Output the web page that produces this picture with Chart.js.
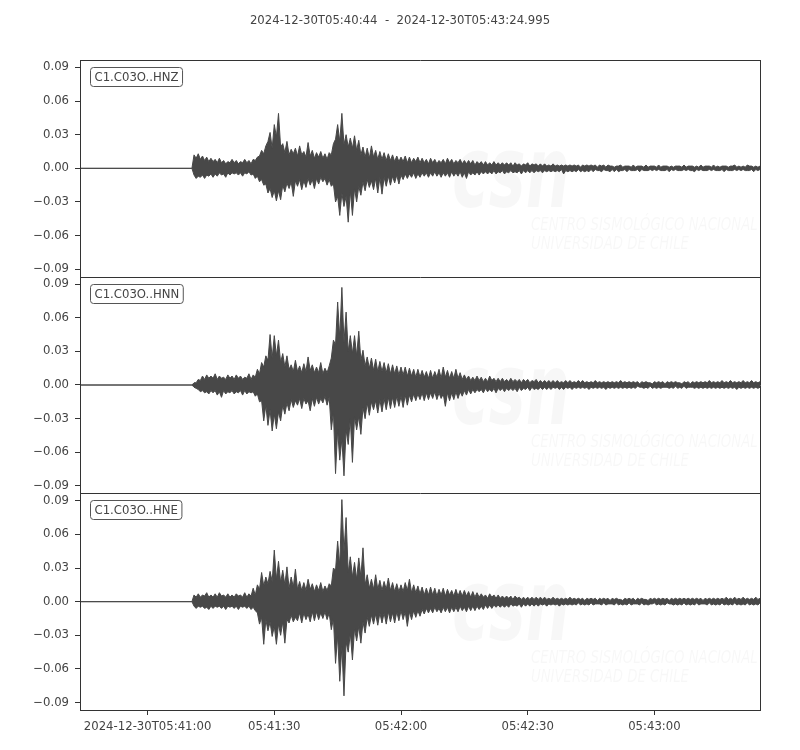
<!DOCTYPE html>
<html>
<head>
<meta charset="utf-8">
<title>C1.C03O</title>
<script src="https://cdn.jsdelivr.net/npm/chart.js@4.4.1/dist/chart.umd.min.js"></script>
<style>
  html, body { margin: 0; padding: 0; background: #fff; }
  #wrap { width: 800px; height: 750px; }
</style>
</head>
<body>
<div id="wrap"><canvas id="sismo" width="800" height="750"></canvas></div>
<script>
// ventana de tiempo (segundos desde 05:40:44)
const titleText = '2024-12-30T05:40:44  -  2024-12-30T05:43:24.995';
const duration = 160.995;
const channels = ['C1.C03O..HNZ', 'C1.C03O..HNN', 'C1.C03O..HNE'];
const xTickSeconds = [16, 46, 76, 106, 136];
const xTickLabels = ['2024-12-30T05:41:00', '05:41:30', '05:42:00', '05:42:30', '05:43:00'];
const yTicks = [-0.09, -0.06, -0.03, 0, 0.03, 0.06, 0.09];
const yLimit = 0.0966;

// maximo y minimo de la traza,
// una columna cada 0.5 s desde t = 26.5 s, en milesimas
const onset = 26.5;
const step = 0.5;
const unit = 0.001;

const hnzMax = [
  0, 12, 9, 13, 8, 11, 7, 10, 6, 9,
  6, 8, 5, 9, 5, 7, 4, 6, 5, 8,
  5, 7, 4, 6, 5, 8, 5, 7, 4, 8,
  7, 10, 11, 16, 13, 20, 24, 32, 18, 39,
  28, 49, 19, 22, 14, 24, 12, 17, 13, 18,
  11, 20, 12, 15, 10, 23, 11, 16, 9, 14,
  10, 15, 9, 13, 8, 14, 12, 22, 26, 39,
  24, 49, 21, 30, 19, 27, 18, 29, 16, 25,
  12, 19, 10, 18, 9, 20, 10, 16, 8, 15,
  8, 14, 7, 13, 7, 12, 6, 11, 6, 10,
  6, 11, 5, 10, 5, 9, 6, 10, 5, 9,
  5, 8, 4, 9, 5, 8, 4, 7, 5, 8,
  4, 9, 5, 8, 4, 7, 5, 8, 4, 7,
  4, 7, 4, 7, 3, 6, 4, 6, 3, 6,
  3, 5, 3, 6, 3, 5, 3, 5, 3, 5,
  3, 5, 2, 5, 3, 4, 2, 4, 3, 5,
  2, 4, 3, 4, 2, 4, 2, 4, 2, 3,
  2, 4, 2, 3, 2, 3, 2, 3, 2, 3,
  2, 3, 2, 3, 1, 3, 2, 3, 2, 3,
  2, 3, 1, 3, 2, 3, 1, 3, 2, 2,
  1, 2, 2, 3, 1, 2, 2, 2, 1, 3,
  1, 2, 2, 2, 1, 3, 1, 2, 2, 2,
  1, 3, 1, 2, 2, 2, 1, 2, 1, 2,
  2, 2, 1, 3, 1, 2, 2, 2, 1, 2,
  1, 3, 1, 2, 2, 2, 1, 3, 1, 2,
  1, 2, 2, 2, 1, 2, 2, 3, 1, 2,
  1, 2, 1, 3, 2, 2, 1, 2, 1, 2
];
const hnzMin = [
  0, -6, -9, -7, -8, -6, -9, -6, -7, -5,
  -8, -5, -7, -4, -6, -5, -8, -4, -6, -4,
  -5, -4, -6, -4, -7, -4, -5, -3, -6, -5,
  -9, -7, -12, -10, -15, -14, -22, -18, -26, -20,
  -29, -20, -28, -15, -21, -13, -18, -12, -25, -11,
  -16, -10, -19, -11, -17, -9, -15, -10, -18, -9,
  -14, -8, -12, -9, -15, -10, -16, -14, -30, -25,
  -42, -22, -34, -25, -48, -20, -42, -18, -30, -16,
  -24, -12, -20, -10, -17, -11, -19, -9, -22, -8,
  -23, -8, -16, -7, -15, -7, -13, -6, -14, -6,
  -10, -5, -9, -5, -8, -4, -9, -5, -8, -4,
  -7, -4, -8, -4, -7, -3, -7, -4, -8, -4,
  -7, -4, -8, -3, -7, -4, -7, -3, -8, -4,
  -9, -3, -6, -4, -6, -3, -6, -3, -5, -3,
  -5, -3, -5, -2, -5, -3, -4, -2, -5, -3,
  -4, -2, -4, -3, -4, -2, -5, -2, -4, -2,
  -4, -2, -4, -2, -3, -2, -4, -2, -3, -2,
  -3, -2, -3, -2, -3, -1, -5, -2, -3, -2,
  -3, -2, -3, -1, -3, -2, -3, -2, -3, -1,
  -3, -1, -2, -2, -3, -1, -2, -2, -3, -1,
  -3, -1, -3, -2, -2, -1, -3, -1, -2, -2,
  -2, -1, -3, -1, -2, -2, -2, -1, -2, -1,
  -2, -1, -2, -2, -2, -1, -3, -1, -2, -1,
  -2, -2, -2, -1, -2, -1, -2, -2, -3, -1,
  -2, -1, -2, -2, -2, -1, -2, -1, -2, -2,
  -2, -1, -3, -1, -2, -2, -2, -1, -2, -1,
  -2, -1, -2, -2, -2, -1, -3, -1, -2, -1
];

const hnnMax = [
  0, 2, 2, 5, 4, 8, 5, 9, 6, 8,
  6, 10, 5, 8, 6, 7, 5, 9, 6, 8,
  5, 9, 6, 8, 5, 7, 6, 10, 5, 9,
  7, 14, 10, 20, 16, 26, 22, 45, 24, 44,
  26, 40, 20, 28, 16, 26, 14, 18, 12, 22,
  12, 17, 11, 19, 12, 25, 13, 18, 11, 16,
  11, 20, 10, 15, 11, 17, 24, 40, 36, 74,
  42, 87, 38, 65, 30, 44, 28, 44, 26, 48,
  22, 31, 17, 25, 15, 24, 13, 23, 12, 21,
  12, 20, 11, 19, 10, 18, 10, 17, 9, 16,
  9, 16, 8, 15, 8, 14, 7, 14, 7, 13,
  7, 12, 6, 13, 6, 12, 7, 14, 6, 16,
  7, 13, 6, 12, 6, 14, 6, 11, 5, 9,
  5, 8, 4, 7, 4, 8, 4, 7, 3, 6,
  3, 8, 4, 6, 3, 6, 3, 6, 3, 5,
  3, 6, 3, 5, 3, 5, 2, 5, 3, 5,
  2, 4, 3, 5, 2, 4, 2, 4, 2, 4,
  2, 4, 2, 4, 2, 3, 2, 4, 2, 4,
  2, 3, 2, 4, 2, 4, 2, 3, 2, 3,
  2, 4, 2, 3, 2, 3, 2, 3, 2, 3,
  2, 3, 2, 4, 2, 3, 2, 3, 2, 3,
  2, 3, 1, 3, 2, 3, 2, 2, 1, 3,
  2, 3, 2, 3, 1, 3, 2, 3, 2, 3,
  2, 2, 1, 3, 2, 3, 1, 3, 2, 3,
  2, 3, 2, 3, 2, 4, 2, 3, 2, 3,
  2, 4, 2, 3, 2, 4, 2, 3, 2, 3,
  2, 4, 2, 3, 2, 4, 2, 3, 2, 3
];
const hnnMin = [
  0, -2, -3, -4, -6, -5, -7, -6, -8, -5,
  -7, -5, -9, -6, -11, -5, -8, -6, -7, -5,
  -8, -6, -7, -5, -9, -5, -8, -6, -7, -6,
  -10, -8, -15, -14, -32, -18, -36, -22, -41, -26,
  -39, -24, -32, -18, -26, -16, -23, -13, -20, -14,
  -18, -12, -21, -12, -17, -14, -23, -12, -19, -11,
  -17, -12, -16, -10, -18, -11, -40, -24, -79, -40,
  -67, -48, -81, -40, -53, -30, -69, -28, -40, -28,
  -44, -20, -30, -16, -27, -15, -22, -14, -25, -13,
  -24, -12, -22, -11, -21, -11, -20, -10, -19, -10,
  -20, -9, -18, -9, -15, -8, -14, -8, -13, -7,
  -14, -7, -13, -7, -12, -6, -13, -7, -12, -8,
  -19, -7, -14, -7, -13, -6, -12, -6, -10, -5,
  -9, -4, -8, -4, -7, -4, -6, -4, -7, -3,
  -6, -4, -6, -3, -7, -3, -5, -3, -6, -3,
  -5, -3, -5, -3, -6, -2, -5, -3, -4, -2,
  -5, -2, -4, -3, -4, -2, -4, -2, -4, -2,
  -4, -2, -3, -2, -4, -2, -4, -2, -3, -2,
  -4, -2, -3, -2, -3, -2, -3, -2, -4, -2,
  -3, -2, -3, -2, -3, -2, -4, -2, -3, -2,
  -3, -2, -3, -2, -3, -2, -3, -2, -3, -2,
  -3, -1, -2, -2, -3, -2, -3, -1, -3, -2,
  -3, -2, -3, -2, -2, -2, -3, -2, -3, -1,
  -3, -2, -3, -1, -3, -2, -2, -2, -3, -2,
  -3, -2, -3, -2, -3, -2, -3, -2, -3, -2,
  -3, -2, -3, -2, -3, -2, -3, -2, -4, -2,
  -3, -2, -3, -2, -3, -2, -3, -2, -3, -2
];

const hneMax = [
  0, 6, 4, 7, 4, 6, 5, 8, 4, 6,
  4, 7, 4, 8, 5, 6, 4, 7, 4, 6,
  4, 7, 5, 6, 4, 8, 4, 7, 5, 12,
  6, 15, 11, 26, 14, 22, 16, 27, 18, 46,
  20, 36, 17, 28, 15, 31, 12, 22, 13, 29,
  11, 18, 10, 17, 10, 20, 11, 16, 9, 15,
  10, 17, 9, 14, 10, 16, 14, 30, 28, 54,
  32, 91, 44, 75, 26, 40, 22, 35, 20, 39,
  22, 48, 15, 24, 12, 20, 11, 24, 11, 19,
  10, 18, 11, 21, 10, 17, 9, 16, 9, 15,
  9, 17, 10, 20, 8, 15, 8, 14, 7, 13,
  6, 12, 6, 13, 6, 12, 5, 11, 6, 12,
  5, 11, 6, 10, 5, 11, 5, 10, 5, 10,
  5, 9, 4, 9, 4, 8, 4, 7, 4, 6,
  3, 7, 4, 6, 3, 6, 3, 5, 3, 5,
  3, 5, 2, 5, 3, 4, 2, 4, 2, 4,
  2, 4, 2, 4, 2, 4, 2, 4, 2, 3,
  2, 4, 2, 3, 2, 3, 2, 3, 2, 4,
  2, 3, 2, 3, 2, 3, 1, 3, 2, 3,
  2, 3, 1, 3, 2, 3, 2, 3, 1, 3,
  2, 3, 2, 2, 1, 3, 2, 3, 2, 3,
  1, 3, 2, 3, 2, 2, 1, 3, 2, 3,
  2, 3, 2, 3, 2, 3, 1, 3, 2, 3,
  2, 3, 2, 3, 2, 3, 2, 3, 2, 3,
  2, 3, 1, 3, 2, 3, 2, 3, 2, 3,
  2, 3, 2, 4, 2, 3, 2, 4, 2, 3,
  2, 4, 2, 3, 2, 3, 2, 4, 2, 3
];
const hneMin = [
  0, -4, -6, -4, -5, -4, -6, -5, -7, -4,
  -6, -4, -5, -4, -6, -4, -7, -4, -5, -4,
  -6, -4, -7, -4, -5, -4, -6, -4, -7, -5,
  -8, -10, -20, -14, -38, -16, -26, -18, -31, -22,
  -38, -20, -30, -18, -37, -16, -19, -12, -18, -14,
  -17, -10, -19, -10, -16, -11, -18, -9, -17, -9,
  -16, -10, -15, -9, -16, -10, -25, -15, -55, -30,
  -71, -40, -84, -36, -45, -28, -52, -24, -35, -22,
  -37, -18, -28, -14, -22, -12, -20, -11, -21, -10,
  -19, -10, -20, -9, -18, -10, -19, -9, -17, -8,
  -16, -9, -22, -9, -16, -8, -14, -8, -13, -7,
  -11, -6, -10, -6, -10, -5, -9, -6, -10, -5,
  -9, -5, -10, -5, -9, -5, -9, -4, -8, -5,
  -9, -4, -8, -4, -8, -4, -7, -4, -7, -3,
  -6, -3, -6, -3, -5, -3, -5, -3, -5, -3,
  -5, -2, -4, -3, -4, -2, -5, -2, -4, -2,
  -4, -2, -4, -2, -4, -2, -3, -2, -4, -2,
  -3, -2, -3, -2, -4, -2, -3, -2, -3, -2,
  -3, -2, -3, -1, -3, -2, -3, -2, -3, -1,
  -3, -2, -2, -2, -3, -1, -3, -2, -2, -2,
  -3, -1, -3, -2, -3, -2, -3, -1, -3, -2,
  -2, -2, -3, -1, -3, -2, -3, -2, -2, -1,
  -3, -2, -3, -2, -3, -1, -2, -2, -3, -2,
  -3, -2, -3, -1, -3, -2, -3, -2, -3, -1,
  -3, -2, -2, -2, -3, -1, -3, -2, -3, -2,
  -3, -1, -3, -2, -3, -2, -3, -1, -3, -2,
  -3, -2, -3, -1, -3, -2, -3, -2, -3, -1
];

const traceColor = '#484848';
const frameColor = '#333333';
const textColor = '#444444';
const fontFamily = '"DejaVu Sans", sans-serif';
const tickFont = { family: fontFamily, size: 11.7 };
const scaleIds = ['yZ', 'yN', 'yE'];

// antes del evento la traza es plana
function toPoints(values) {
  const pts = [{ x: 0, y: 0 }];
  values.forEach((v, i) => pts.push({ x: onset + i * step, y: v * unit }));
  return pts;
}

function yScale(order) {
  return {
    type: 'linear',
    position: 'left',
    stack: 'traces',
    stackWeight: 1,
    weight: order,
    min: -yLimit,
    max: yLimit,
    afterBuildTicks: (s) => { s.ticks = yTicks.map(v => ({ value: v })); },
    afterFit: (s) => { s.width = 80; },
    grid: { drawOnChartArea: false, drawTicks: true, tickLength: 5, color: frameColor },
    border: { display: true, color: frameColor },
    ticks: {
      autoSkip: false,
      padding: 6,
      color: textColor,
      font: tickFont,
      callback: (v) => v.toFixed(2).replace('-', '\u2212')
    }
  };
}

function roundBox(ctx, x, y, w, h, r) {
  ctx.beginPath();
  ctx.moveTo(x + r, y);
  ctx.lineTo(x + w - r, y);
  ctx.arcTo(x + w, y, x + w, y + r, r);
  ctx.lineTo(x + w, y + h - r);
  ctx.arcTo(x + w, y + h, x + w - r, y + h, r);
  ctx.lineTo(x + r, y + h);
  ctx.arcTo(x, y + h, x, y + h - r, r);
  ctx.lineTo(x, y + r);
  ctx.arcTo(x, y, x + r, y, r);
  ctx.closePath();
}

const decor = {
  id: 'decor',
  beforeDatasetsDraw(chart) {
    // marca de agua CSN, muy tenue
    const ctx = chart.ctx;
    const left = chart.chartArea.left;
    ctx.save();
    ctx.fillStyle = 'rgba(0,0,0,0.03)';
    scaleIds.forEach(id => {
      const top = chart.scales[id].top;
      ctx.save();
      ctx.translate(left + 372, top + 147);
      ctx.scale(0.62, 1);
      ctx.font = 'italic bold 100px ' + fontFamily;
      ctx.fillText('csn', 0, 0);
      ctx.restore();
      ctx.save();
      ctx.translate(left + 451, top + 170);
      ctx.scale(0.78, 1);
      ctx.font = 'italic 17px ' + fontFamily;
      ctx.fillText('CENTRO SISMOL\u00d3GICO NACIONAL', 0, 0);
      ctx.fillText('UNIVERSIDAD DE CHILE', 0, 19);
      ctx.restore();
    });
    ctx.restore();
  },
  afterDatasetsDraw(chart) {
    const ctx = chart.ctx;
    const { left, right } = chart.chartArea;
    const first = chart.scales[scaleIds[0]];
    const last = chart.scales[scaleIds[scaleIds.length - 1]];
    ctx.save();
    // marco: una sola linea entre paneles
    ctx.strokeStyle = frameColor;
    ctx.lineWidth = 1;
    ctx.beginPath();
    const edges = scaleIds.map(id => Math.round(chart.scales[id].top));
    edges.push(Math.round(last.bottom));
    edges.forEach(y => { ctx.moveTo(left, y + 0.5); ctx.lineTo(right + 1, y + 0.5); });
    ctx.moveTo(Math.round(left) + 0.5, Math.round(first.top));
    ctx.lineTo(Math.round(left) + 0.5, Math.round(last.bottom) + 1);
    ctx.moveTo(Math.round(right) + 0.5, Math.round(first.top));
    ctx.lineTo(Math.round(right) + 0.5, Math.round(last.bottom) + 1);
    ctx.stroke();
    // etiqueta del canal
    ctx.font = '11.7px ' + fontFamily;
    ctx.textBaseline = 'middle';
    scaleIds.forEach((id, k) => {
      const s = chart.scales[id];
      const w = ctx.measureText(channels[k]).width + 8;
      const bx = left + 10.5;
      const by = Math.round(s.top) + 7.5;
      roundBox(ctx, bx, by, w, 19, 3);
      ctx.fillStyle = '#ffffff';
      ctx.fill();
      ctx.strokeStyle = '#555555';
      ctx.stroke();
      ctx.fillStyle = textColor;
      ctx.fillText(channels[k], bx + 4, by + 10);
    });
    ctx.restore();
  },
  afterDraw(chart) {
    const ctx = chart.ctx;
    ctx.save();
    ctx.font = '11.7px ' + fontFamily;
    ctx.fillStyle = textColor;
    ctx.textAlign = 'center';
    ctx.textBaseline = 'middle';
    ctx.fillText(titleText, 400, 21);
    ctx.restore();
  }
};

// para cada canal: linea de maximos y linea de minimos, rellenando entre ambas
const datasets = [];
[[hnzMax, hnzMin], [hnnMax, hnnMin], [hneMax, hneMin]].forEach((pair, k) => {
  datasets.push({
    label: channels[k] + ' max',
    data: toPoints(pair[0]),
    yAxisID: scaleIds[k],
    borderColor: traceColor,
    borderWidth: 1,
    pointRadius: 0,
    tension: 0,
    fill: false
  });
  datasets.push({
    label: channels[k] + ' min',
    data: toPoints(pair[1]),
    yAxisID: scaleIds[k],
    borderColor: traceColor,
    backgroundColor: traceColor,
    borderWidth: 1,
    pointRadius: 0,
    tension: 0,
    fill: '-1'
  });
});

new Chart(document.getElementById('sismo').getContext('2d'), {
  type: 'line',
  data: { datasets },
  options: {
    responsive: false,
    animation: false,
    events: [],
    layout: { padding: { top: 60, right: 40, bottom: 0, left: 0 } },
    plugins: { legend: { display: false }, tooltip: { enabled: false } },
    scales: {
      x: {
        type: 'linear',
        min: 0,
        max: duration,
        afterBuildTicks: (s) => { s.ticks = xTickSeconds.map(v => ({ value: v })); },
        afterFit: (s) => { s.height = 40; },
        grid: { drawOnChartArea: false, drawTicks: true, tickLength: 5, color: frameColor },
        border: { display: true, color: frameColor },
        ticks: {
          autoSkip: false,
          maxRotation: 0,
          padding: 5,
          color: textColor,
          font: tickFont,
          callback: (v, i) => xTickLabels[i]
        }
      },
      yZ: yScale(3),
      yN: yScale(2),
      yE: yScale(1)
    }
  },
  plugins: [decor]
});
</script>
</body>
</html>
